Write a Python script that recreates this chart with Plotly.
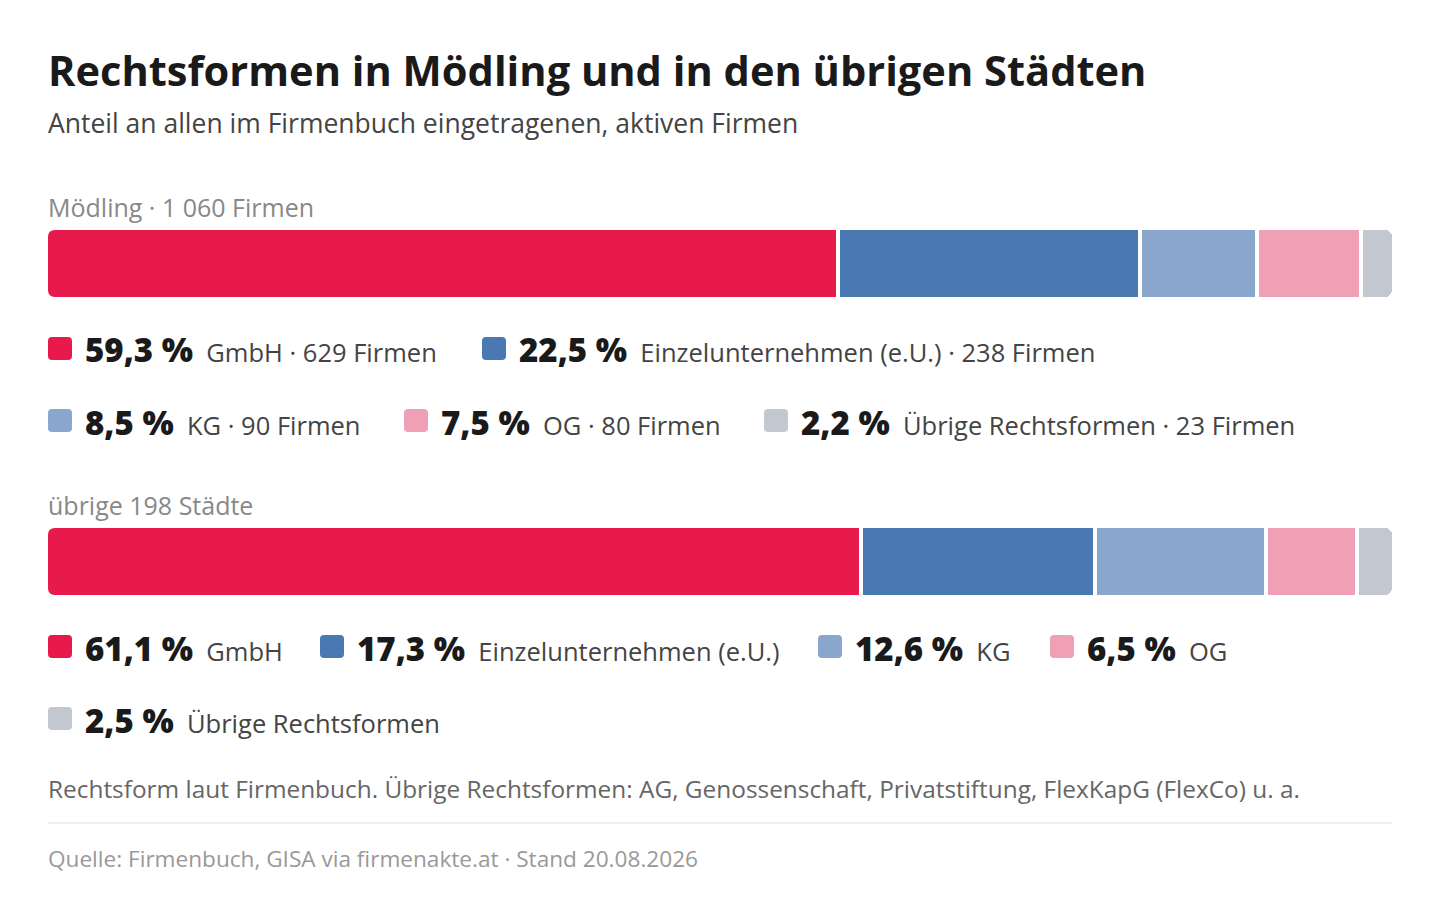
import plotly.graph_objects as go

# ---- data ----
groups = ["Mödling", "übrige 198 Städte"]
group_labels = ["Mödling · 1 060 Firmen", "übrige 198 Städte"]
forms = ["GmbH", "Einzelunternehmen (e.U.)", "KG", "OG", "Übrige Rechtsformen"]
colors = ["#E8194B", "#4A78B2", "#8AA6CC", "#EFA0B4", "#C3C8D0"]
share_moedling = [59.3, 22.5, 8.5, 7.5, 2.2]
count_moedling = [629, 238, 90, 80, 23]
share_rest = [61.1, 17.3, 12.6, 6.5, 2.5]

OFF = 8                      # page body margin
W, H = 1440 - 2 * OFF, 904 - 2 * OFF
L = 48 - OFF
R = W - (1392 - OFF)
PW = W - L - R               # 1344 px
GAP_PX = 4
n_gaps = len(forms) - 1
unit_px = (PW - n_gaps * GAP_PX) / 100.0
gap_units = GAP_PX / unit_px
FONT = "Open Sans"
TX = 46                      # text left edge (annotation padding compensates)


def px(x):
    return (x - OFF - L) / PW


def py(y):
    return 1 - (y - OFF) / H


def fmt(v):
    return f"{v:.1f}".replace(".", ",") + " %"


fig = go.Figure()
for i, f in enumerate(forms):
    fig.add_trace(go.Bar(
        y=groups, x=[share_moedling[i], share_rest[i]], orientation="h",
        name=f, marker=dict(color=colors[i], line=dict(width=0)),
        width=67 / 298, hoverinfo="skip", showlegend=False,
    ))
    if i < n_gaps:
        fig.add_trace(go.Bar(
            y=groups, x=[gap_units, gap_units], orientation="h",
            marker=dict(color="rgba(0,0,0,0)", line=dict(width=0)),
            width=67 / 298, hoverinfo="skip", showlegend=False,
        ))

unit = 298.0
c0 = 263.5 - OFF
y_top = -c0 / unit
y_bot = (H - c0) / unit

ann = []
shapes = []


def rrect(x0, y0, x1, y1, r, color):
    def P(x, y):
        return f"{px(x):.6f},{py(y):.6f}"
    path = (f"M {P(x0 + r, y0)} L {P(x1 - r, y0)} Q {P(x1, y0)} {P(x1, y0 + r)} "
            f"L {P(x1, y1 - r)} Q {P(x1, y1)} {P(x1 - r, y1)} "
            f"L {P(x0 + r, y1)} Q {P(x0, y1)} {P(x0, y1 - r)} "
            f"L {P(x0, y0 + r)} Q {P(x0, y0)} {P(x0 + r, y0)} Z")
    return dict(type="path", xref="paper", yref="paper", path=path,
                fillcolor=color, line=dict(width=0), layer="above")


def corner_mask(x, y, r, sx, sy):
    def P(a, b):
        return f"{px(a):.6f},{py(b):.6f}"
    path = (f"M {P(x, y)} L {P(x + sx * r, y)} Q {P(x, y)} {P(x, y + sy * r)} Z")
    return dict(type="path", xref="paper", yref="paper", path=path,
                fillcolor="white", line=dict(width=0), layer="above")


for top in (230, 528):
    shapes.append(corner_mask(48, top, 7, 1, 1))
    shapes.append(corner_mask(48, top + 67, 7, 1, -1))

ann.append(dict(text="<b>Rechtsformen in Mödling und in den übrigen Städten</b>",
                x=px(TX), y=py(70), xref="paper", yref="paper", xanchor="left", yanchor="middle",
                showarrow=False, font=dict(family=FONT, size=41.6, color="#1a1a1a", weight=800)))
ann.append(dict(text="Anteil an allen im Firmenbuch eingetragenen, aktiven Firmen",
                x=px(TX), y=py(123), xref="paper", yref="paper", xanchor="left", yanchor="middle",
                showarrow=False, font=dict(family=FONT, size=26.5, color="#444")))

for lbl, yy in zip(group_labels, [207, 505]):
    ann.append(dict(text=lbl, x=px(TX), y=py(yy), xref="paper", yref="paper",
                    xanchor="left", yanchor="middle", showarrow=False,
                    font=dict(family=FONT, size=25, color="#888")))

# legend items: (index, marker_x, row_y)
leg1 = [(0, 48, 350), (1, 482, 350), (2, 48, 422), (3, 404, 422), (4, 764, 422)]
leg2 = [(0, 48, 648), (1, 320, 648), (2, 818, 648), (3, 1050, 648), (4, 48, 720)]


def add_item(i, mx, yy, pct, extra):
    shapes.append(rrect(mx, yy - 13, mx + 24, yy + 10, 4, colors[i]))
    label = forms[i] + extra
    ann.append(dict(
        text=f"{fmt(pct)}<span style='font-weight:400;font-size:25.5px;fill:#444'>  {label}</span>",
        x=px(mx + 35), y=py(yy), xref="paper", yref="paper", xanchor="left", yanchor="middle",
        showarrow=False, font=dict(family=FONT, size=33, color="#1a1a1a", weight=800)))


for i, mx, yy in leg1:
    add_item(i, mx, yy, share_moedling[i], f" · {count_moedling[i]} Firmen")
for i, mx, yy in leg2:
    add_item(i, mx, yy, share_rest[i], "")

ann.append(dict(text="Rechtsform laut Firmenbuch. Übrige Rechtsformen: AG, Genossenschaft, Privatstiftung, FlexKapG (FlexCo) u. a.",
                x=px(TX), y=py(788), xref="paper", yref="paper", xanchor="left", yanchor="middle",
                showarrow=False, font=dict(family=FONT, size=24.4, color="#666")))
shapes.append(dict(type="line", xref="paper", yref="paper", x0=px(48), x1=px(1392),
                   y0=py(823), y1=py(823), line=dict(color="#e6e8eb", width=1.5)))
ann.append(dict(text="Quelle: Firmenbuch, GISA via firmenakte.at · Stand 20.08.2026",
                x=px(TX), y=py(858), xref="paper", yref="paper", xanchor="left", yanchor="middle",
                showarrow=False, font=dict(family=FONT, size=22.6, color="#999")))

fig.update_layout(
    width=W, height=H, margin=dict(l=L, r=R, t=0, b=0, pad=0),
    paper_bgcolor="white", plot_bgcolor="white",
    barmode="stack", barcornerradius=7,
    xaxis=dict(range=[0, 100 + n_gaps * gap_units], visible=False, fixedrange=True),
    yaxis=dict(range=[y_bot, y_top], visible=False, fixedrange=True, type="category",
               categoryorder="array", categoryarray=groups),
    annotations=ann, shapes=shapes,
)

fig.write_html("out.html")
